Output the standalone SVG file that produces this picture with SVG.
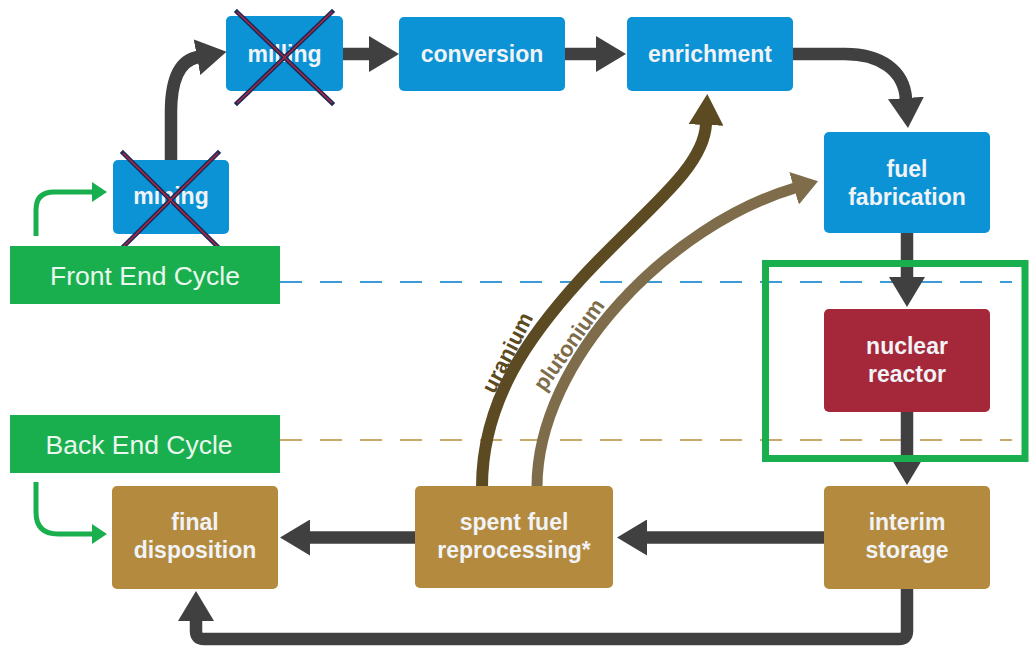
<svg xmlns="http://www.w3.org/2000/svg" width="1030" height="647" viewBox="0 0 1030 647">
  <defs>
    <style>
      .box-blue { fill: #0b93d6; }
      .box-red { fill: #a4283a; }
      .box-tan { fill: #b38a3e; }
      .lbl { font-family: "Liberation Sans", Arial, sans-serif; font-weight: bold; font-size: 23px; fill: #f1f3f6; text-anchor: middle; }
      .stage { fill: #1aaf4e; }
      .stage-lbl { font-family: "Liberation Sans", Arial, sans-serif; font-size: 26.5px; fill: #eaf7ee; text-anchor: middle; }
      .flow { fill: none; stroke: #404040; stroke-width: 12.5; stroke-linejoin: round; }
      .green-flow { fill: none; stroke: #1aaf4e; stroke-width: 5; stroke-linejoin: round; }
      .uranium { fill: none; stroke: #5b4a22; stroke-width: 12; }
      .plutonium { fill: none; stroke: #7e6c4a; stroke-width: 11; }
      .strike-out { stroke: #1d2b5a; stroke-width: 4.5; stroke-linecap: square; }
      .strike-in { stroke: #c0283a; stroke-width: 1.2; }
      .flow-lbl { font-family: "Liberation Sans", Arial, sans-serif; font-weight: bold; font-size: 22px; text-anchor: middle; }
    </style>
    <marker id="head-dark" markerUnits="userSpaceOnUse" viewBox="0 0 30 36" markerWidth="30" markerHeight="36" refX="1" refY="18" orient="auto">
      <path d="M0,0 L30,18 L0,36 Z" fill="#404040"/>
    </marker>
    <marker id="head-green" markerUnits="userSpaceOnUse" viewBox="0 0 15 20" markerWidth="15" markerHeight="20" refX="1" refY="10" orient="auto">
      <path d="M0,0 L15,10 L0,20 Z" fill="#1aaf4e"/>
    </marker>
    <marker id="head-uranium" markerUnits="userSpaceOnUse" viewBox="0 0 31 35" markerWidth="31" markerHeight="35" refX="1" refY="17.5" orient="auto">
      <path d="M0,0 L31,17.5 L0,35 Z" fill="#5b4a22"/>
    </marker>
    <marker id="head-plutonium" markerUnits="userSpaceOnUse" viewBox="0 0 25 34" markerWidth="25" markerHeight="34" refX="1" refY="17" orient="auto">
      <path d="M0,0 L25,17 L0,34 Z" fill="#7e6c4a"/>
    </marker>
  </defs>

  <rect width="1030" height="647" fill="#ffffff"/>

  <!-- cycle boundary lines -->
  <g id="boundaries">
    <line x1="280" y1="282" x2="1012" y2="282" stroke="#3d9bd8" stroke-width="2" stroke-dasharray="22 18"/>
    <line x1="280" y1="440" x2="1012" y2="440" stroke="#c9a86b" stroke-width="2" stroke-dasharray="22 18"/>
  </g>

  <!-- connectors -->
  <g id="connectors">
    <path class="flow" d="M171,160 L171,112 Q171,62 198,57" marker-end="url(#head-dark)"/>
    <path class="flow" d="M343,54 L370,54" marker-end="url(#head-dark)"/>
    <path class="flow" d="M565,54 L597,54" marker-end="url(#head-dark)"/>
    <path class="flow" d="M793,54 L845,54 C880,54 904,70 906,99" marker-end="url(#head-dark)"/>
    <path class="flow" d="M907,233 L907,278" marker-end="url(#head-dark)"/>
    <path class="flow" d="M907,412 L907,456" marker-end="url(#head-dark)"/>
    <path class="flow" d="M824,537.5 L646,537.5" marker-end="url(#head-dark)"/>
    <path class="flow" d="M415,537.5 L309,537.5" marker-end="url(#head-dark)"/>
    <path class="flow" d="M907,589 L907,631 Q907,639 899,639 L204,639 Q196,639 196,631 L196,620" marker-end="url(#head-dark)"/>

    <path class="green-flow" d="M36,236 L36,210 Q36,192 54,192 L93,192" marker-end="url(#head-green)"/>
    <path class="green-flow" d="M36,482 L36,512 Q36,534 58,534 L93,534" marker-end="url(#head-green)"/>

    <path class="uranium" d="M482,487 C482,400 530,335 580,280 C640,214 704,170 706,124" marker-end="url(#head-uranium)"/>
    <path class="plutonium" d="M537,487 C537,360 670,225 795,188" marker-end="url(#head-plutonium)"/>
    <text class="flow-lbl" fill="#5b4a22" transform="translate(514,356) rotate(-63)">uranium</text>
    <text class="flow-lbl" fill="#7e6c4a" transform="translate(575,349) rotate(-55)">plutonium</text>
  </g>

  <!-- front end stages -->
  <g id="mining">
    <rect class="box-blue" x="113" y="160" width="116" height="74" rx="5"/>
    <text class="lbl" x="171" y="204">mining</text>
    <line class="strike-out" x1="123" y1="153" x2="218" y2="247"/>
    <line class="strike-out" x1="218" y1="153" x2="123" y2="247"/>
    <line class="strike-in" x1="123" y1="153" x2="218" y2="247"/>
    <line class="strike-in" x1="218" y1="153" x2="123" y2="247"/>
  </g>
  <g id="milling">
    <rect class="box-blue" x="226" y="16" width="117" height="75" rx="5"/>
    <text class="lbl" x="284.5" y="62">milling</text>
    <line class="strike-out" x1="237" y1="12" x2="332" y2="103"/>
    <line class="strike-out" x1="332" y1="12" x2="237" y2="103"/>
    <line class="strike-in" x1="237" y1="12" x2="332" y2="103"/>
    <line class="strike-in" x1="332" y1="12" x2="237" y2="103"/>
  </g>
  <g id="conversion">
    <rect class="box-blue" x="399" y="17" width="166" height="74" rx="5"/>
    <text class="lbl" x="482" y="62">conversion</text>
  </g>
  <g id="enrichment">
    <rect class="box-blue" x="627" y="17" width="166" height="74" rx="5"/>
    <text class="lbl" x="710" y="62">enrichment</text>
  </g>
  <g id="fuel-fabrication">
    <rect class="box-blue" x="824" y="132" width="166" height="101" rx="5"/>
    <text class="lbl" x="907" y="177">fuel</text>
    <text class="lbl" x="907" y="205">fabrication</text>
  </g>
  <g id="nuclear-reactor">
    <rect class="box-red" x="824" y="309" width="166" height="103" rx="5"/>
    <text class="lbl" x="907" y="354">nuclear</text>
    <text class="lbl" x="907" y="382">reactor</text>
  </g>

  <!-- back end stages -->
  <g id="interim-storage">
    <rect class="box-tan" x="824" y="486" width="166" height="103" rx="5"/>
    <text class="lbl" x="907" y="530">interim</text>
    <text class="lbl" x="907" y="558">storage</text>
  </g>
  <g id="spent-fuel-reprocessing">
    <rect class="box-tan" x="415" y="486" width="198" height="102" rx="5"/>
    <text class="lbl" x="514" y="530">spent fuel</text>
    <text class="lbl" x="514" y="558">reprocessing*</text>
  </g>
  <g id="final-disposition">
    <rect class="box-tan" x="112" y="486" width="166" height="103" rx="5"/>
    <text class="lbl" x="195" y="530">final</text>
    <text class="lbl" x="195" y="558">disposition</text>
  </g>

  <!-- cycle labels -->
  <g id="front-end-cycle">
    <rect class="stage" x="10" y="246" width="270" height="58"/>
    <text class="stage-lbl" x="145" y="285">Front End Cycle</text>
  </g>
  <g id="back-end-cycle">
    <rect class="stage" x="10" y="415" width="270" height="58"/>
    <text class="stage-lbl" x="139" y="454">Back End Cycle</text>
  </g>

  <!-- reactor highlight frame -->
  <g id="reactor-frame">
    <rect x="765.5" y="263.5" width="259.5" height="195" fill="none" stroke="#1aaf4e" stroke-width="7"/>
  </g>
</svg>
